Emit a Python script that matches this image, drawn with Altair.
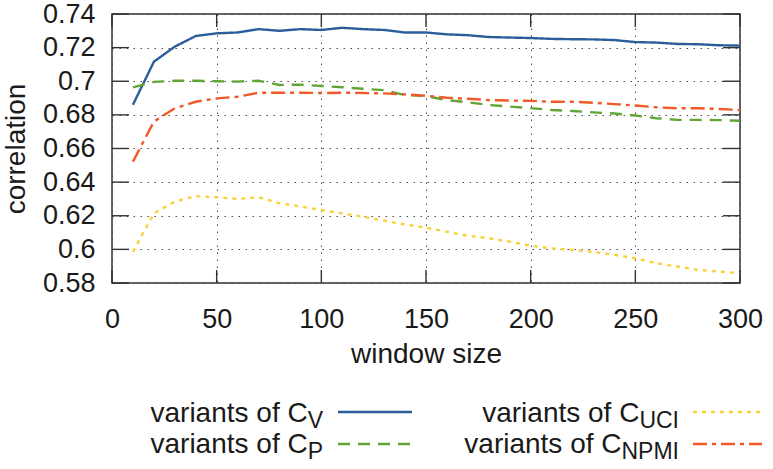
import altair as alt
import pandas as pd

# ---------------- data ----------------
window = [10, 20, 30, 40, 50, 60, 70, 80, 90, 100, 110, 120, 130, 140, 150,
          160, 170, 180, 190, 200, 210, 220, 230, 240, 250, 260, 270, 280, 290, 300]

c_v = [0.6860, 0.7116, 0.7206, 0.7269, 0.7285, 0.7290, 0.7310, 0.7300, 0.7310, 0.7305,
       0.7318, 0.7310, 0.7305, 0.7290, 0.7290, 0.7279, 0.7274, 0.7263, 0.7260, 0.7257,
       0.7252, 0.7250, 0.7249, 0.7245, 0.7233, 0.7230, 0.7222, 0.7220, 0.7214, 0.7212]

c_p = [0.6964, 0.6996, 0.7003, 0.7003, 0.7000, 0.6998, 0.7003, 0.6978, 0.6980, 0.6972,
       0.6964, 0.6955, 0.6947, 0.6918, 0.6912, 0.6888, 0.6875, 0.6859, 0.6849, 0.6840,
       0.6829, 0.6823, 0.6815, 0.6808, 0.6796, 0.6780, 0.6770, 0.6770, 0.6769, 0.6765]

c_uci = [0.5986, 0.6214, 0.6284, 0.6317, 0.6310, 0.6300, 0.6310, 0.6275, 0.6255, 0.6234,
         0.6214, 0.6194, 0.6170, 0.6148, 0.6129, 0.6105, 0.6081, 0.6066, 0.6046, 0.6022,
         0.6006, 0.5997, 0.5985, 0.5967, 0.5947, 0.5918, 0.5898, 0.5878, 0.5868, 0.5858]

c_npmi = [0.6522, 0.6760, 0.6839, 0.6878, 0.6898, 0.6908, 0.6932, 0.6932, 0.6932, 0.6930,
          0.6932, 0.6930, 0.6928, 0.6922, 0.6914, 0.6902, 0.6896, 0.6888, 0.6885, 0.6883,
          0.6878, 0.6878, 0.6872, 0.6864, 0.6856, 0.6845, 0.6839, 0.6839, 0.6835, 0.6829]

series_names = ["V", "P", "UCI", "NPMI"]
series_values = [c_v, c_p, c_uci, c_npmi]
legend_main = "variants of C"

x_ticks = [0, 50, 100, 150, 200, 250, 300]
y_ticks = [0.58, 0.60, 0.62, 0.64, 0.66, 0.68, 0.70, 0.72, 0.74]

# ---------------- styling ----------------
colors = ["#2b5d9b", "#62a536", "#f8d23a", "#f05a28"]
dashes = [[1, 0], [12, 8], [4, 5], [14, 5, 4, 5]]
FONT = "Liberation Sans"
TXT = "#1a1a1a"
W, H = 628, 269
FS = 28
SUB_FS = 23

rows = []
for name, vals in zip(series_names, series_values):
    for w, v in zip(window, vals):
        rows.append({"window": w, "corr": v, "series": name})
df = pd.DataFrame(rows)

color_scale = alt.Scale(domain=series_names, range=colors)
dash_scale = alt.Scale(domain=series_names, range=dashes)
x_scale = alt.Scale(domain=[0, 300], nice=False)
y_scale = alt.Scale(domain=[0.58, 0.74], nice=False, zero=False)

x_axis = alt.Axis(values=x_ticks, title="window size", grid=True,
                  ticks=False, tickSize=0, domain=False,
                  labelOverlap=False, labelFlush=False,
                  labelPadding=23, titlePadding=8)
y_axis = alt.Axis(values=y_ticks, title="correlation", grid=True,
                  ticks=False, tickSize=0, domain=False,
                  labelOverlap=False, labelFlush=False,
                  labelExpr="format(datum.value, '.2~f')",
                  labelPadding=17, titlePadding=12)

# ---------------- legend layout (computed) ----------------
arial_w = {"V": 0.667, "P": 0.667, "U": 0.722, "C": 0.722, "I": 0.278,
           "N": 0.722, "M": 0.833}


def text_width(s, size):
    return sum(arial_w.get(ch, 0.6) for ch in s) * size


col_right = [211, 567]
line_x0 = [226, 581]
line_x1 = [300, 650]
row_base = [408, 439]
row_line = [398, 430]
placement = {"V": (0, 0), "P": (0, 1), "UCI": (1, 0), "NPMI": (1, 1)}

legend_layers = []
for name in series_names:
    c, r = placement[name]
    mx = col_right[c] - text_width(name, SUB_FS)
    one = pd.DataFrame({"series": [name], "main": [legend_main], "sub": [name]})
    base = alt.Chart(one)
    legend_layers.append(base.mark_rule(strokeWidth=2.4).encode(
        x=alt.value(line_x0[c]), x2=alt.value(line_x1[c]), y=alt.value(row_line[r]),
        color=alt.Color("series:N", scale=color_scale, legend=None),
        strokeDash=alt.StrokeDash("series:N", scale=dash_scale, legend=None),
    ))
    legend_layers.append(base.mark_text(align="right", baseline="alphabetic",
                                        font=FONT, fontSize=FS, color=TXT).encode(
        x=alt.value(mx), y=alt.value(row_base[r]), text="main:N"))
    legend_layers.append(base.mark_text(align="left", baseline="alphabetic",
                                        font=FONT, fontSize=SUB_FS, color=TXT).encode(
        x=alt.value(mx), y=alt.value(row_base[r] + 6), text="sub:N"))

lines = alt.Chart(df).mark_line(strokeWidth=2.4, clip=True).encode(
    x=alt.X("window:Q", scale=x_scale, axis=x_axis),
    y=alt.Y("corr:Q", scale=y_scale, axis=y_axis),
    color=alt.Color("series:N", scale=color_scale, legend=None),
    strokeDash=alt.StrokeDash("series:N", scale=dash_scale, legend=None),
    order=alt.Order("window:Q"),
)

tick_style = dict(color="#333333", strokeWidth=1.4)
ydf = pd.DataFrame({"corr": y_ticks})
xdf = pd.DataFrame({"window": x_ticks})
yt_left = alt.Chart(ydf).mark_rule(**tick_style).encode(
    y=alt.Y("corr:Q", scale=y_scale, axis=y_axis), x=alt.value(0), x2=alt.value(17))
yt_right = alt.Chart(ydf).mark_rule(**tick_style).encode(
    y=alt.Y("corr:Q", scale=y_scale, axis=y_axis), x=alt.value(W - 17), x2=alt.value(W))
xt_bottom = alt.Chart(xdf).mark_rule(**tick_style).encode(
    x=alt.X("window:Q", scale=x_scale, axis=x_axis), y=alt.value(H - 13), y2=alt.value(H))
xt_top = alt.Chart(xdf).mark_rule(**tick_style).encode(
    x=alt.X("window:Q", scale=x_scale, axis=x_axis), y=alt.value(0), y2=alt.value(13))

chart = alt.layer(
    lines, yt_left, yt_right, xt_bottom, xt_top, *legend_layers
).properties(
    width=W, height=H,
    background="white",
    autosize=alt.AutoSizeParams(type="none"),
    padding={"left": 112, "top": 14, "right": 773 - 112 - W, "bottom": 469 - 14 - H},
).configure_view(
    stroke="#333333", strokeWidth=1.5
).configure_axis(
    labelFont=FONT, labelFontSize=27, labelColor=TXT,
    titleFont=FONT, titleFontSize=FS, titleColor=TXT, titleFontWeight="normal",
    gridColor="#4a4a4a", gridDash=[1.5, 5.5], gridWidth=1, gridOpacity=1,
)

chart.save("out.html", embed_options={"renderer": "svg", "actions": False})
